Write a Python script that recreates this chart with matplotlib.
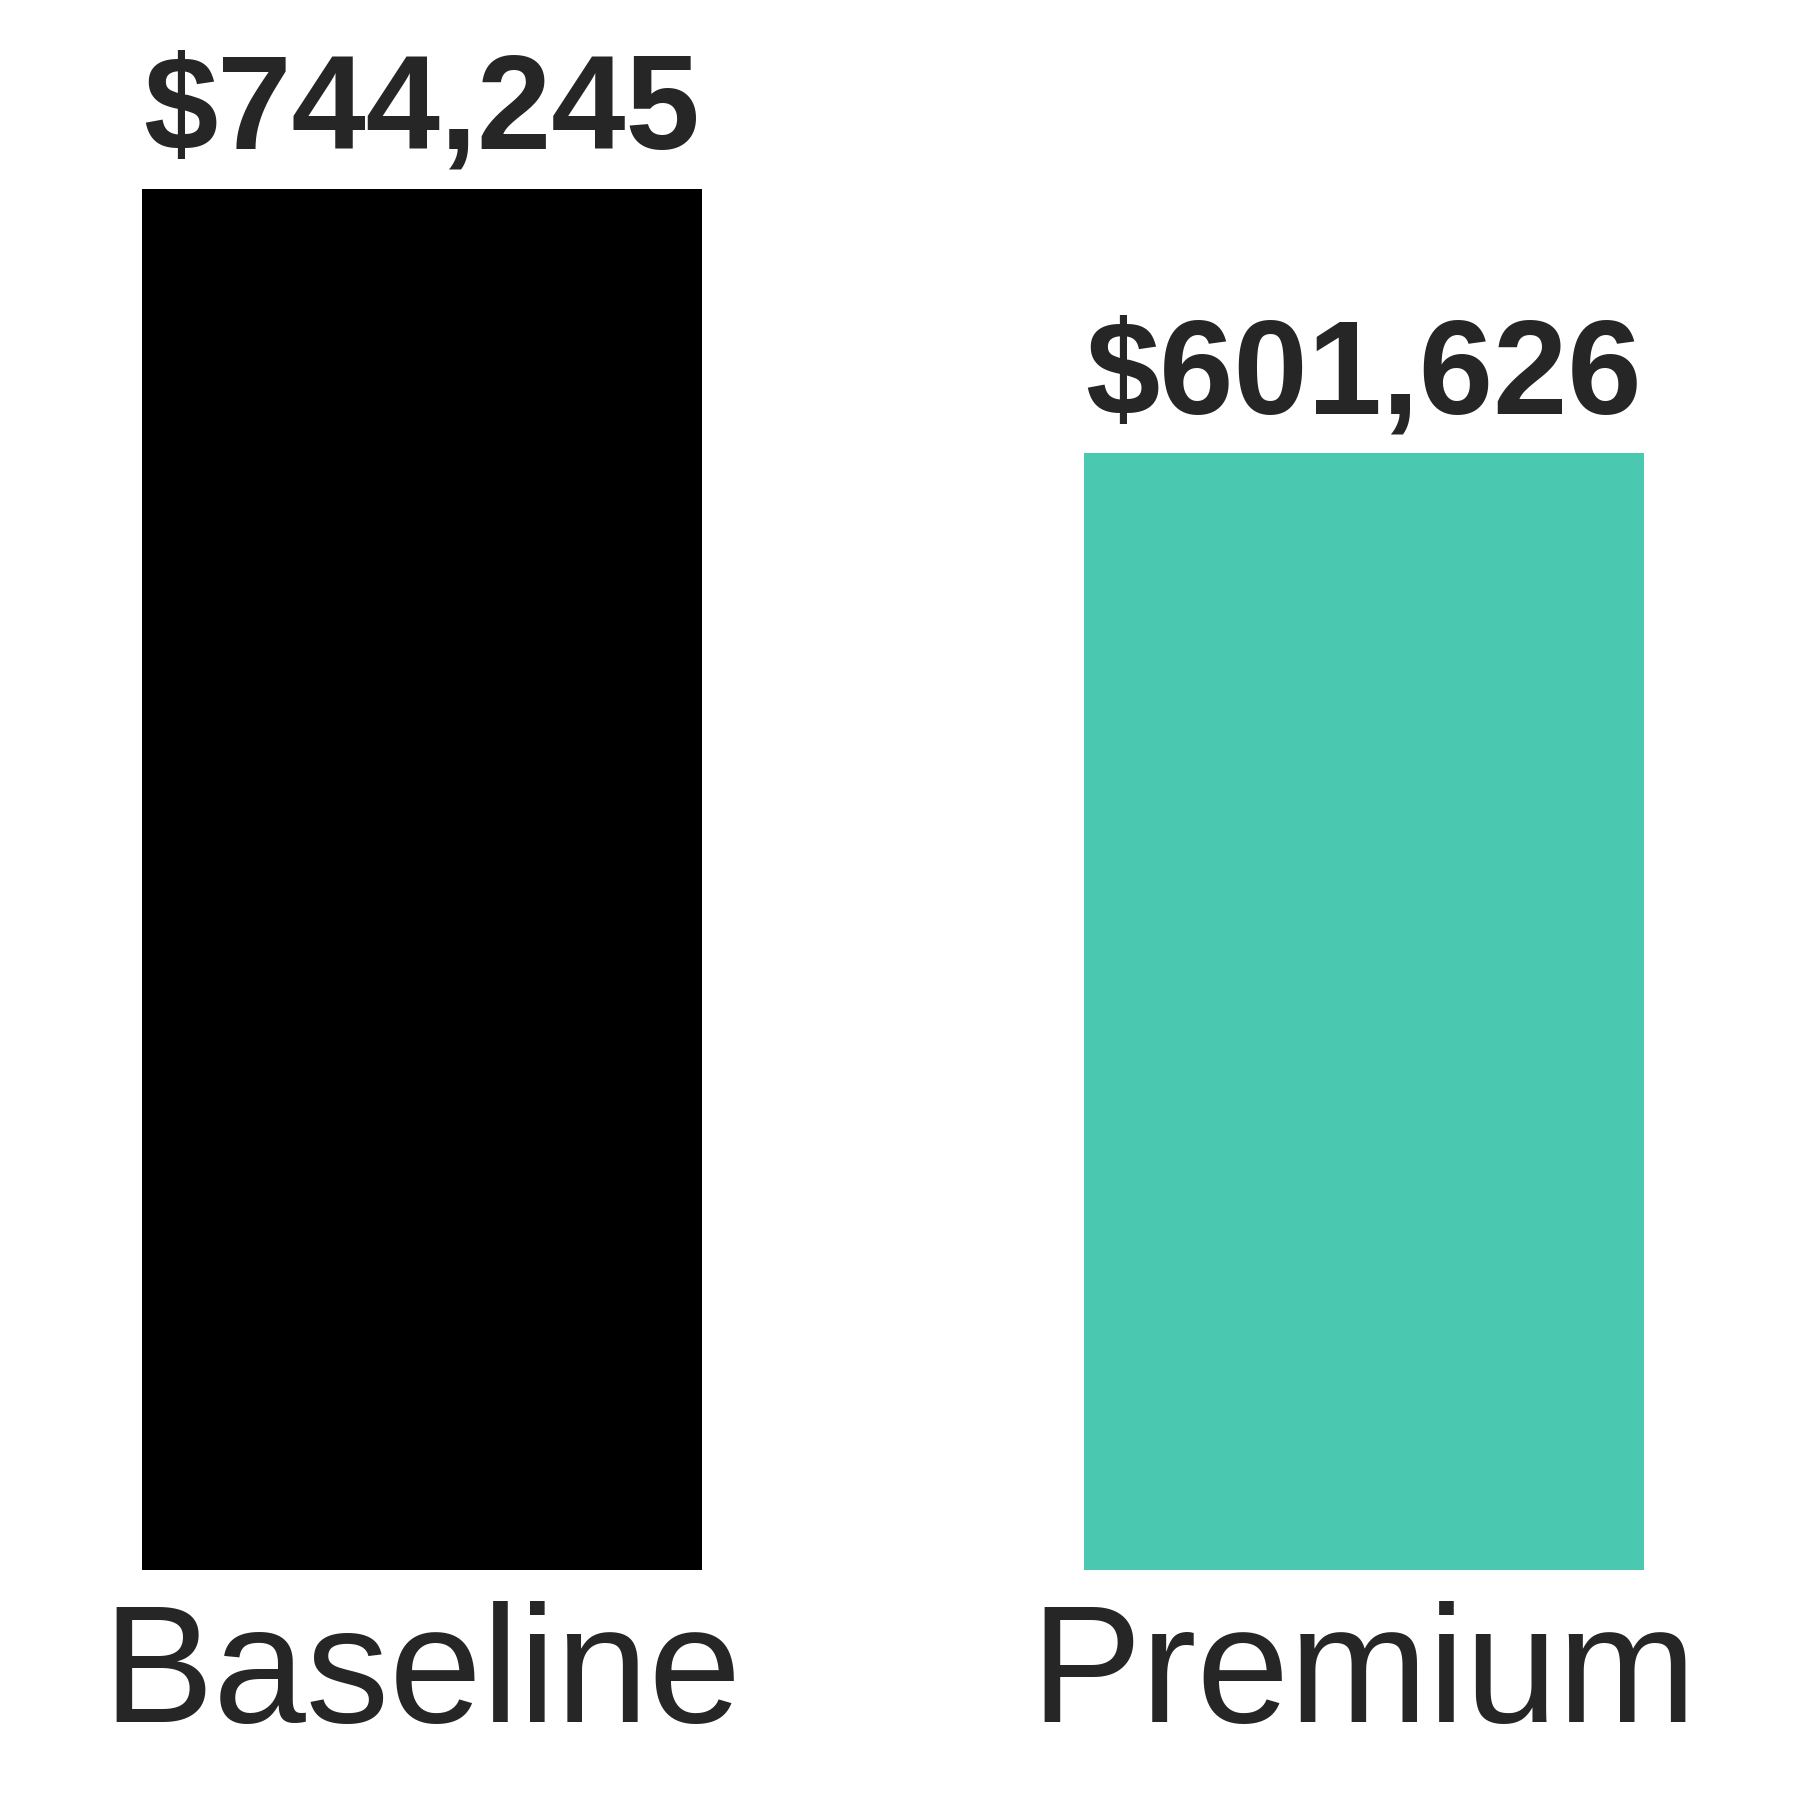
import matplotlib
matplotlib.use("Agg")
import matplotlib.pyplot as plt

categories = ["Baseline", "Premium"]
values = [744245, 601626]
bar_colors = ["#000000", "#4BC9B0"]
value_labels = ["$744,245", "$601,626"]

plt.rcParams['font.family'] = ['Liberation Sans', 'DejaVu Sans']
text_color = "#262626"

fig = plt.figure(figsize=(18, 18), dpi=100)
ax = fig.add_axes([0, 0.1278, 1, 0.8722])

x = range(len(categories))
bars = ax.bar(x, values, width=0.595, color=bar_colors)

for bar, lab in zip(bars, value_labels):
    ax.annotate(lab, (bar.get_x() + bar.get_width() / 2, bar.get_height()),
                xytext=(0, 29), textcoords="offset points",
                ha="center", va="baseline", fontsize=96, fontweight="bold",
                color=text_color)

ax.set_xticks(list(x))
ax.set_xticklabels(categories, fontsize=120, color=text_color)
ax.tick_params(axis="x", length=0, pad=22)
ax.set_yticks([])
for s in ax.spines.values():
    s.set_visible(False)

ax.set_xlim(-0.448, 1.463)
ax.set_ylim(0, 846000)

fig.savefig("out.png", dpi=100)
